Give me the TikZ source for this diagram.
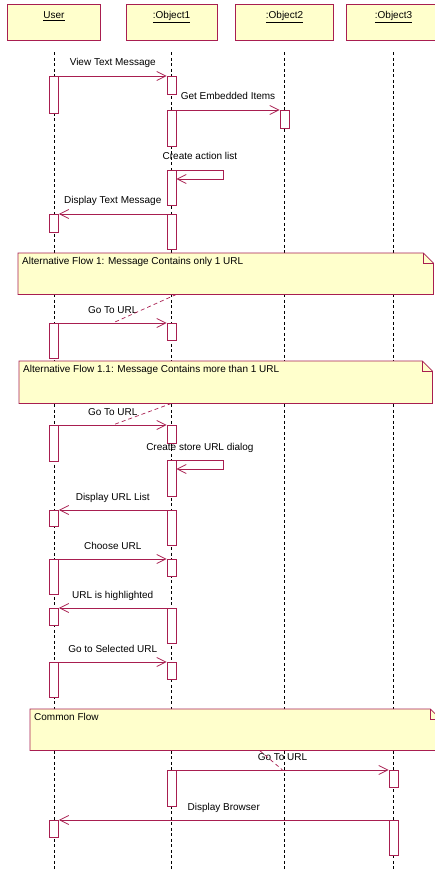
\documentclass[tikz,border=0pt]{standalone}
\usepackage{fontspec}
\setmainfont{Liberation Sans}
\usetikzlibrary{arrows.meta}
\usetikzlibrary{positioning}
\definecolor{umlred}{RGB}{168,30,80}
\definecolor{notefill}{RGB}{255,255,204}
\tikzset{
  head/.style={draw=umlred, fill=notefill, line width=0.8pt, minimum height=36pt,
    inner ysep=3pt, text height=12pt, text depth=18pt, font=\fontsize{10}{12}\selectfont},
  lifeline/.style={draw=black, line width=0.6pt, dash pattern=on 3pt off 2.5pt},
  act/.style={draw=umlred, fill=white, line width=0.8pt, minimum width=9pt, inner sep=0pt, anchor=north},
  msg/.style={draw=umlred, line width=0.8pt, -{Straight Barb[length=9pt,width=9pt]}},
  msglabel/.style={font=\fontsize{10}{12}\selectfont, anchor=base, yshift=10pt, inner sep=0pt},
  notebox/.style={inner sep=0pt, anchor=north west},
  noteline/.style={draw=umlred, fill=notefill, line width=0.8pt},
  notetext/.style={font=\fontsize{10}{12}\selectfont, inner sep=1pt},
  anchorline/.style={draw=umlred, line width=0.7pt, dash pattern=on 4pt off 3pt},
}
\begin{document}
\begin{tikzpicture}[x=1pt, y=-1pt]
  \useasboundingbox (0,0) rectangle (435,869);
  \coordinate (bot) at (0,869);

  % objects and lifelines
  \node[head, minimum width=93pt] (hu) at (54,22) {\underline{User}};
  \node[head, minimum width=91pt] (ho1) at (171.5,22) {\underline{:Object1}};
  \node[head, minimum width=98pt] (ho2) at (284.5,22) {\underline{:Object2}};
  \node[head, minimum width=94pt] (ho3) at (393.5,22) {\underline{:Object3}};
  \draw[lifeline] ([yshift=-12pt]hu.south) -- (hu.south |- bot);
  \draw[lifeline] ([yshift=-12pt]ho1.south) -- (ho1.south |- bot);
  \draw[lifeline] ([yshift=-12pt]ho2.south) -- (ho2.south |- bot);
  \draw[lifeline] ([yshift=-12pt]ho3.south) -- (ho3.south |- bot);

  % notes
  \node[notebox, minimum width=415pt, minimum height=41pt] (n1) at (18,253) {};
  \node[notebox, minimum width=413pt, minimum height=42pt] (n2) at (19,361) {};
  \node[notebox, minimum width=410pt, minimum height=41pt] (n3) at (30,709) {};
  \foreach \n in {n1,n2,n3} {
    \draw[noteline] (\n.north west) -- ([xshift=-10pt]\n.north east) -- ([yshift=-10pt]\n.north east)
      -- (\n.south east) -- (\n.south west) -- cycle;
    \draw[noteline, fill=none] ([xshift=-10pt]\n.north east) |- ([yshift=-10pt]\n.north east); % the folded corner
  }
  \node[notetext, below right=3.5pt and 3pt of n1.north west] (t1) {Alternative Flow 1: Message Contains only 1 URL};
  \node[notetext, below right=3.5pt and 3pt of n2.north west] (t2) {Alternative Flow 1.1: Message Contains more than 1 URL};
  \node[notetext, below right=3.5pt and 3pt of n3.north west] (t3) {Common Flow};

  % activations of User
  \node[act, minimum height=37pt] (u1) at (54,76) {};
  \node[act, minimum height=18pt] (u2) at (54,214) {};
  \node[act, minimum height=35pt] (u3) at (54,323) {};
  \node[act, minimum height=36pt] (u4) at (54,425) {};
  \node[act, minimum height=16pt] (u5) at (54,510) {};
  \node[act, minimum height=35pt] (u6) at (54,559) {};
  \node[act, minimum height=17pt] (u7) at (54,608) {};
  \node[act, minimum height=35pt] (u8) at (54,662) {};
  \node[act, minimum height=17pt] (u9) at (54,820) {};
  % activations of :Object1
  \node[act, minimum height=18pt] (o1) at (171.5,76) {};
  \node[act, minimum height=36pt] (o2) at (171.5,110) {};
  \node[act, minimum height=35pt] (o3) at (171.5,170) {};
  \node[act, minimum height=35pt] (o4) at (171.5,214) {};
  \node[act, minimum height=17pt] (o5) at (171.5,323) {};
  \node[act, minimum height=18pt] (o6) at (171.5,425) {};
  \node[act, minimum height=36pt] (o7) at (171.5,460) {};
  \node[act, minimum height=35pt] (o8) at (171.5,510) {};
  \node[act, minimum height=17pt] (o9) at (171.5,559) {};
  \node[act, minimum height=35pt] (o10) at (171.5,608) {};
  \node[act, minimum height=17pt] (o11) at (171.5,662) {};
  \node[act, minimum height=36pt] (o12) at (171.5,770) {};
  % activations of :Object2 and :Object3
  \node[act, minimum height=18pt] (b1) at (284.5,110) {};
  \node[act, minimum height=17pt] (c1) at (393.5,770) {};
  \node[act, minimum height=35pt] (c2) at (393.5,820) {};

  % messages
  \draw[msg] (u1.north east) -- node[msglabel] {View Text Message} (o1.north west);
  \draw[msg] (o2.north east) -- node[msglabel] {Get Embedded Items} (b1.north west);
  \draw[msg] (o3.north east) -- node[msglabel] {Create action list} ++(47,0) -- ++(0,9) -- ([yshift=-9pt]o3.north east);
  \draw[msg] (o4.north west) -- node[msglabel] {Display Text Message} (u2.north east);
  \draw[msg] (u3.north east) -- node[msglabel] {Go To URL} coordinate[midway] (g1) (o5.north west);
  \draw[msg] (u4.north east) -- node[msglabel] {Go To URL} coordinate[midway] (g2) (o6.north west);
  \draw[msg] (o7.north east) -- node[msglabel] {Create store URL dialog} ++(47,0) -- ++(0,9) -- ([yshift=-9pt]o7.north east);
  \draw[msg] (o8.north west) -- node[msglabel] {Display URL List} (u5.north east);
  \draw[msg] (u6.north east) -- node[msglabel] {Choose URL} (o9.north west);
  \draw[msg] (o10.north west) -- node[msglabel] {URL is highlighted} (u7.north east);
  \draw[msg] (u8.north east) -- node[msglabel] {Go to Selected URL} (o11.north west);
  \draw[msg] (o12.north east) -- node[msglabel] {Go To URL} coordinate[midway] (g3) (c1.north west);
  \draw[msg] (c2.north west) -- node[msglabel] {Display Browser} (u9.north east);

  % notes anchored to the messages
  \draw[anchorline] (n1.south -| o5.east) -- (g1);
  \draw[anchorline] (n2.south -| o6) -- (g2);
  \draw[anchorline] ([xshift=-23pt]g3 |- n3.south) -- (g3);
\end{tikzpicture}
\end{document}
